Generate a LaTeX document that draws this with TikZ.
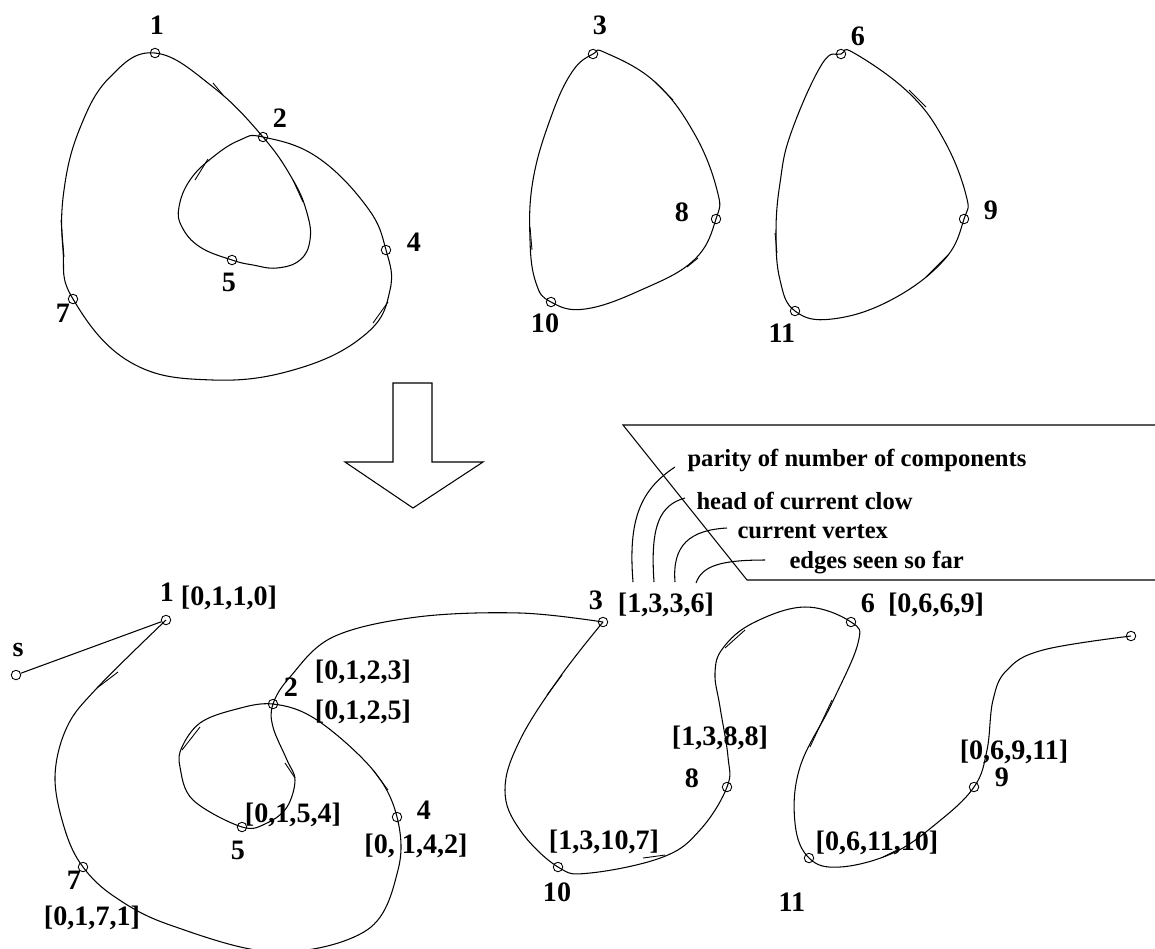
\documentclass[tikz,border=0pt]{standalone}
\usepackage{fontspec}
\setmainfont{Liberation Serif}
\usepackage{tikz}
\usetikzlibrary{
	calc
}

\tikzset{
	vtx/.style={circle,draw,inner sep=0pt,minimum size=5.4pt,line width=0.5pt},
	num/.style={font=\fontsize{16}{18}\selectfont\bfseries,inner sep=0pt},
	note/.style={font=\fontsize{14}{16}\selectfont\bfseries,inner sep=0pt,anchor=west},
	hook/.style={line width=0.5pt}
}

\begin{document}
\begin{tikzpicture}[x=0.02cm,y=-0.02cm,line width=0.6pt]
		
		\useasboundingbox (0,0) rectangle (1155,948);
		
		% the graph: vertices
		\node[vtx] (t1) at (155,53) {};
		\node[vtx] (t2) at (263,137) {};
		\node[vtx] (t4) at (386,250) {};
		\node[vtx] (t5) at (232,260) {};
		\node[vtx] (t7) at (73,299) {};
		\node[vtx] (t3) at (593,54) {};
		\node[vtx] (t8) at (716,219) {};
		\node[vtx] (t10) at (551,302) {};
		\node[vtx] (t6) at (841,54) {};
		\node[vtx] (t9) at (964,219) {};
		\node[vtx] (t11) at (795,311) {};
		
		\foreach \n/\x/\y in {1/157/25, 2/280/118, 4/414/242, 5/229/282, 7/63/313,
			3/600/25, 8/682/212, 10/545/323, 6/858/36, 9/991/210, 11/782/333}
		\node[num] (lt\n) at (\x,\y) {\n};
		
		% the three cycle covers
		\draw plot[smooth cycle,tension=0.7] coordinates {(t1.center) (213,87) (t2.center) (293,180) (307,213) (310,240) (300,260) (277,268) (253,265) (t5.center) (200,247) (182,227) (179,207) (190,180) (213,157) (240,140) (t2.center) (317,157) (367,207) (t4.center) (390,290) (367,333) (300,368) (213,380) (130,362) (t7.center) (63,250) (64,190) (80,128) (110,77)};
		\draw plot[smooth cycle,tension=0.7] coordinates {(t3.center) (606,53) (655,82) (694,133) (717,190) (t8.center) (694,260) (641,290) (585,309) (t10.center) (536,283) (530,240) (533,180) (551,117) (572,72)};
		\draw plot[smooth cycle,tension=0.7] coordinates {(t6.center) (854,53) (909,93) (944,140) (966,195) (t9.center) (944,260) (891,300) (832,319) (t11.center) (780,280) (776,233) (780,183) (791,133) (822,64)};
		
		% small marks along the curves
		\foreach \a/\b/\c/\d in {213/83/223/95, 293/180/303/202, 195/180/208/159, 61/220/64/257, 373/323/388/302,
			655/82/673/100, 687/267/698/258, 530/227/532/250, 909/90/926/107, 926/277/948/255, 775/233/777/253}
		\draw[hook] (\a,\b) -- (\c,\d);
		
		% big arrow
		\draw (393,383) -- (432,383) -- (432,462) -- (483,462) -- (413,508) -- (345,462) -- (393,462) -- cycle;
		
		% the box with the notes
		\draw (1155,425) -- (623,425) -- (747,580) -- (1155,580);
		\node[note] (n1) at (687,460) {parity of number of components};
		\node[note] (n2) at (696,501) {head of current clow};
		\node[note] (n3) at (737,532) {current vertex};
		\node[note] (n4) at (789,563) {edges seen so far};
		
		% the clow sequence
		\node[vtx] (s) at (16,675) {};
		\node[vtx] (b1) at (166,620) {};
		\node[vtx] (b2) at (273,704) {};
		\node[vtx] (b4) at (397,817) {};
		\node[vtx] (b5) at (242,827) {};
		\node[vtx] (b7) at (83,867) {};
		\node[vtx] (b3) at (603,622) {};
		\node[vtx] (b8) at (727,787) {};
		\node[vtx] (b10) at (558,867) {};
		\node[vtx] (b6) at (851,622) {};
		\node[vtx] (b9) at (974,787) {};
		\node[vtx] (b11) at (809,858) {};
		\node[vtx] (e) at (1131,636) {};
		
		\node[num] (ls) at (18,650) {s};
		\foreach \n/\x/\y in {1/167/592, 2/291/687, 4/424/810, 5/238/850, 7/74/880,
			3/596/600, 8/692/778, 10/557/892, 6/868/603, 9/1002/777, 11/792/902}
		\node[num] (lb\n) at (\x,\y) {\n};
		
		\node[num] (q1) at (229,598) {[0,1,1,0]};
		\node[num] (q2) at (363,672) {[0,1,2,3]};
		\node[num] (q3) at (363,712) {[0,1,2,5]};
		\node[num] (q4) at (293,815) {[0,1,5,4]};
		\node[num] (q5) at (416,846) {[0, 1,4,2]};
		\node[num] (q6) at (92,918) {[0,1,7,1]};
		\node[num] (q7) at (666,605) {[1,3,3,6]};
		\node[num] (q8) at (720,738) {[1,3,8,8]};
		\node[num] (q9) at (604,842) {[1,3,10,7]};
		\node[num] (q10) at (936,605) {[0,6,6,9]};
		\node[num] (q11) at (1014,752) {[0,6,9,11]};
		\node[num] (q12) at (877,843) {[0,6,11,10]};
		
		\draw (s) -- (b1);
		\draw plot[smooth,tension=0.6] coordinates {(b1.center) (97,688) (67,727) (55,777) (65,830) (b7.center) (115,897) (170,925) (275,952) (367,930) (398,870) (b4.center) (373,770) (317,720) (b2.center) (233,710) (200,723) (182,747) (180,767) (193,800) (b5.center) (267,823) (287,807) (295,780) (287,760) (273,727) (b2.center) (290,677) (333,637) (417,617) (520,613) (b3.center)};
		\draw plot[smooth,tension=0.65] coordinates {(b3.center) (560,677) (520,740) (505,790) (520,830) (b10.center) (590,873) (663,857) (700,830) (b8.center) (728,757) (720,707) (715,673) (723,648) (753,623) (805,607) (b6.center) (858,643) (832,703) (800,767) (795,823) (b11.center) (840,867) (893,853) (937,823) (b9.center) (987,750) (993,700) (1007,670) (1043,650) (e.center)};
		
		\foreach \a/\b/\c/\d in {97/688/118/672, 182/750/200/727, 285/763/295/778, 373/770/388/790,
			547/695/562/675, 643/858/665/855, 725/648/745/630, 810/747/832/700, 883/857/897/850}
		\draw[hook] (\a,\b) -- (\c,\d);
		
		% leaders from the notes
		\coordinate (k1) at (633,582);
		\coordinate (k2) at (654,582);
		\coordinate (k3) at (675,582);
		\coordinate (k4) at (696,583);
		\draw ($(n1.west)+(-12,7)$) .. controls (640,490) and (628,520) .. (k1);
		\draw ($(n2.west)+(-11,-3)$) .. controls (660,505) and (650,525) .. (k2);
		\draw ($(n3.west)+(-10,-4)$) .. controls (690,530) and (672,545) .. (k3);
		\draw ($(n4.west)+(-24,-3)$) .. controls (720,560) and (702,566) .. (k4);
		
	\end{tikzpicture}
\end{document}
